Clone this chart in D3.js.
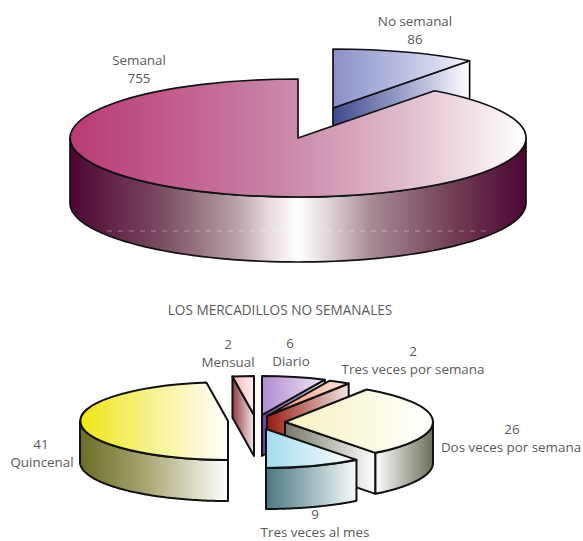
<!DOCTYPE html>
<html>
<head>
<meta charset="utf-8">
<script src="https://d3js.org/d3.v7.min.js"></script>
<style>
html,body{margin:0;padding:0;background:#fff}
svg{display:block}
text{font-family:"Open Sans","Liberation Sans",sans-serif;fill:#5a5a5a;font-size:13.4px;text-anchor:middle}
</style>
</head>
<body>
<svg id="chart" width="583" height="541"></svg>
<script>
// Mercadillos by frequency
const mainCategories = ["No semanal", "Semanal"];
const mainValues = [86, 755];
const detailCategories = ["Diario", "Tres veces por semana", "Dos veces por semana", "Tres veces al mes", "Quincenal", "Mensual"];
const detailValues = [6, 2, 26, 9, 41, 2];
const detailTitle = "LOS MERCADILLOS NO SEMANALES";

const svg = d3.select("#chart");
const defs = svg.append("defs");

// Builds a horizontal gradient and returns its url reference
let gradId = 0;
function gradient(stops) {
  const id = "g" + (++gradId);
  const g = defs.append("linearGradient").attr("id", id).attr("x1", 0).attr("x2", 1).attr("y1", 0).attr("y2", 0);
  stops.forEach(([o, c]) => g.append("stop").attr("offset", o).attr("stop-color", c));
  return `url(#${id})`;
}

const pieLayout = d3.pie().sort(null).value(d => d);
const unitArc = d3.arc().innerRadius(0).outerRadius(1);
const polyLine = d3.line();

// One extruded wedge on a tilted disc; angles run clockwise from 12 o'clock
function drawWedge(g, slice, geo, style) {
  const { cx, cy, rx, ry, depth, sw } = geo;
  const pt = (a, dy = 0) => [cx + rx * Math.sin(a), cy - ry * Math.cos(a) + dy];
  const a0 = slice.startAngle, a1 = slice.endAngle;

  // Side walls of the cut, visible when facing the viewer
  const cutWall = a => polyLine([[cx, cy], pt(a), pt(a, depth), [cx, cy + depth]]) + "Z";
  if (style.wallEnd) {
    g.append("path").attr("d", cutWall(a1)).attr("fill", style.wallEnd)
      .attr("stroke", "#111").attr("stroke-width", sw).attr("stroke-linejoin", "round");
  }
  if (style.wallStart) {
    g.append("path").attr("d", cutWall(a0)).attr("fill", style.wallStart)
      .attr("stroke", "#111").attr("stroke-width", sw).attr("stroke-linejoin", "round");
  }

  // Curved rim, only the part on the near half of the disc
  const lo = Math.max(a0, Math.PI / 2), hi = Math.min(a1, Math.PI * 1.5);
  if (style.rim && hi > lo) {
    const steps = d3.range(0, 81).map(i => lo + (hi - lo) * i / 80);
    const ring = steps.map(a => pt(a)).concat(steps.slice().reverse().map(a => pt(a, depth)));
    g.append("path").attr("d", polyLine(ring) + "Z").attr("fill", style.rim)
      .attr("stroke", "#111").attr("stroke-width", sw).attr("stroke-linejoin", "round");
  }

  // Top face
  g.append("path")
    .attr("d", unitArc({ startAngle: a0, endAngle: a1 }))
    .attr("transform", `translate(${cx},${cy}) scale(${rx},${ry})`)
    .attr("fill", style.top)
    .attr("stroke", "#111").attr("stroke-width", sw).attr("stroke-linejoin", "round")
    .attr("vector-effect", "non-scaling-stroke");
}

// Upper chart: total split into weekly and non-weekly markets
const mainArcs = pieLayout(mainValues);
const mainGeo = { rx: 228, ry: 59, depth: 65, sw: 1.7 };
const upper = svg.append("g");
drawWedge(upper, mainArcs[0], { ...mainGeo, cx: 333, cy: 108 }, {
  top: gradient([[0, "#8a90c6"], [0.5, "#b9bde0"], [1, "#f3f4fb"]]),
  wallEnd: gradient([[0, "#3f4a8e"], [0.5, "#9a9fc8"], [1, "#ffffff"]])
});
drawWedge(upper, mainArcs[1], { ...mainGeo, cx: 298, cy: 138 }, {
  top: gradient([[0, "#b93a74"], [0.35, "#c5719a"], [0.5, "#cc8dab"], [0.75, "#e3c0cf"], [1, "#ffffff"]]),
  rim: gradient([[0, "#4c0532"], [0.2, "#7a4a60"], [0.36, "#b59ea5"], [0.44, "#e8dde2"], [0.5, "#ffffff"], [0.56, "#e4d9de"], [0.66, "#a88a96"], [0.85, "#6e3a52"], [1, "#4c0532"]])
});
upper.append("line").attr("x1", 107).attr("x2", 490).attr("y1", 231).attr("y2", 231)
  .attr("stroke", "#ffffff").attr("stroke-opacity", 0.55).attr("stroke-width", 0.7).attr("stroke-dasharray", "5 6");

// Lower chart: breakdown of the non-weekly markets, drawn back to front
const detailArcs = pieLayout(detailValues);
const detailGeo = { rx: 148, ry: 39, depth: 41, sw: 2 };
const detailOrigins = {
  "Mensual": [254, 415],
  "Quincenal": [228, 421],
  "Diario": [262, 415],
  "Tres veces por semana": [267, 416],
  "Dos veces por semana": [285, 422],
  "Tres veces al mes": [266, 429]
};
const detailStyles = {
  "Mensual": {
    top: gradient([[0, "#f6b6bc"], [1, "#fff0f0"]]),
    wallStart: gradient([[0, "#8f3d45"], [1, "#f5e9e9"]])
  },
  "Quincenal": {
    top: gradient([[0, "#f1e613"], [0.4, "#f5f07c"], [1, "#ffffff"]]),
    rim: gradient([[0, "#6b6c25"], [0.45, "#a9a774"], [1, "#ffffff"]])
  },
  "Diario": {
    top: gradient([[0, "#b08cd0"], [1, "#f0e8f6"]]),
    wallEnd: gradient([[0, "#6a3fa0"], [1, "#e8e0f0"]])
  },
  "Tres veces por semana": {
    top: gradient([[0, "#f08a60"], [1, "#fde8de"]]),
    wallEnd: gradient([[0, "#961a10"], [1, "#f0e4e0"]])
  },
  "Dos veces por semana": {
    top: gradient([[0, "#f7f2bf"], [1, "#ffffff"]]),
    wallEnd: gradient([[0, "#77776a"], [1, "#ffffff"]]),
    rim: gradient([[0, "#ffffff"], [1, "#6c6d58"]])
  },
  "Tres veces al mes": {
    top: gradient([[0, "#a5dced"], [1, "#ffffff"]]),
    rim: gradient([[0, "#4c7780"], [1, "#f6fafa"]])
  }
};
const lower = svg.append("g");
["Mensual", "Quincenal", "Diario", "Tres veces por semana", "Dos veces por semana", "Tres veces al mes"].forEach(name => {
  const i = detailCategories.indexOf(name);
  const [cx, cy] = detailOrigins[name];
  drawWedge(lower, detailArcs[i], { ...detailGeo, cx, cy }, detailStyles[name]);
});

// Text
const label = (x, y, s) => svg.append("text").attr("x", x).attr("y", y).text(s);
label(415, 26, mainCategories[0]);
label(415, 44, mainValues[0]);
label(139, 65, mainCategories[1]);
label(139, 83, mainValues[1]);
label(280, 315, detailTitle).style("font-size", "13.6px");

label(228, 349, detailValues[5]);
label(228, 367, detailCategories[5]);
label(290, 348, detailValues[0]);
label(291, 366, detailCategories[0]);
label(413, 356, detailValues[1]);
label(413, 374, detailCategories[1]);
label(512, 434, detailValues[2]);
label(511, 452, detailCategories[2]);
label(315, 519, detailValues[3]);
label(315, 537, detailCategories[3]);
label(41, 449, detailValues[4]);
label(42, 467, detailCategories[4]);
</script>
</body>
</html>
